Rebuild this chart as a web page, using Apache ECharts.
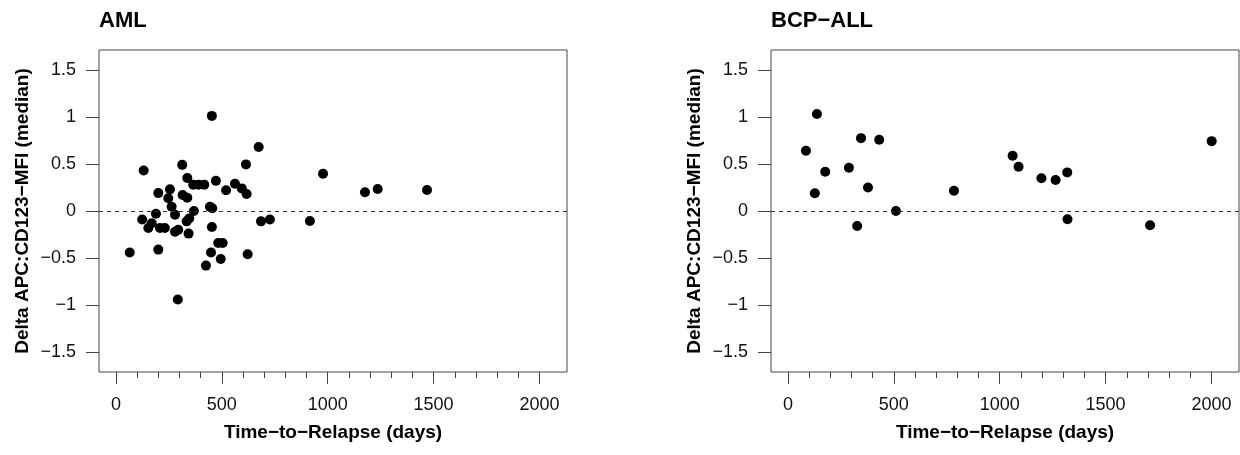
<!DOCTYPE html>
<html>
<head>
<meta charset="utf-8">
<script src="https://cdn.jsdelivr.net/npm/echarts@6/dist/echarts.min.js"></script>
<style>
html,body{margin:0;padding:0;background:#fff;}
#chart{width:1240px;height:455px;}
</style>
</head>
<body>
<div id="chart"></div>
<script>
// AML panel: time-to-relapse (days) and delta APC:CD123-MFI (median)
var amlDays = [453, 674, 614, 131, 313, 337, 365, 390, 417, 472, 520, 562, 594, 617, 200, 255, 247, 263, 279, 315, 337, 368, 444, 455, 124, 189, 169, 153, 208, 231, 279, 294, 334, 346, 343, 453, 483, 504, 449, 495, 425, 622, 685, 727, 65, 200, 292, 978, 1176, 1236, 1469, 916];
var amlDelta = [1.01, 0.68, 0.495, 0.43, 0.49, 0.35, 0.28, 0.28, 0.28, 0.32, 0.22, 0.29, 0.24, 0.18, 0.19, 0.23, 0.135, 0.046, -0.04, 0.17, 0.14, 0.0, 0.046, 0.03, -0.09, -0.03, -0.13, -0.18, -0.18, -0.18, -0.22, -0.2, -0.11, -0.08, -0.24, -0.17, -0.34, -0.34, -0.44, -0.51, -0.58, -0.46, -0.11, -0.09, -0.44, -0.41, -0.94, 0.395, 0.2, 0.233, 0.223, -0.106];
// BCP-ALL panel
var bcpDays = [137, 85, 345, 431, 176, 288, 127, 378, 510, 327, 784, 1061, 1089, 1197, 1264, 1319, 1320, 1710, 2001];
var bcpDelta = [1.03, 0.64, 0.774, 0.756, 0.417, 0.46, 0.188, 0.25, 0.0, -0.16, 0.215, 0.586, 0.47, 0.347, 0.33, 0.41, -0.088, -0.152, 0.742];

var panelTitles = ['AML', 'BCP\u2212ALL'];
var xTitle = 'Time\u2212to\u2212Relapse (days)';
var yTitle = 'Delta APC:CD123\u2212MFI (median)';
var xMajorTicks = [0, 500, 1000, 1500, 2000];
var xMinorTicks = [100, 200, 300, 400, 600, 700, 800, 900, 1100, 1200, 1300, 1400, 1600, 1700, 1800, 1900];
var yTicks = [-1.5, -1, -0.5, 0, 0.5, 1, 1.5];
var xRange = [-80, 2130];
var yRange = [-1.71, 1.71];

function pairs(xs, ys) { return xs.map(function (x, i) { return [x, ys[i]]; }); }
function fmt(v) { return String(v).replace('-', '\u2212'); }

var FONT = '"Liberation Sans", Arial, Helvetica, sans-serif';
var BOX = '#444';

var chart = echarts.init(document.getElementById('chart'), null, {renderer: 'canvas'});

var grids = [
  {left: 99, top: 50, width: 468, height: 322, show: true, borderColor: BOX, borderWidth: 1, backgroundColor: 'transparent'},
  {left: 771, top: 50, width: 468, height: 322, show: true, borderColor: BOX, borderWidth: 1, backgroundColor: 'transparent'}
];

var xAxes = [], yAxes = [];
[0, 1].forEach(function (g) {
  xAxes.push({
    type: 'value', gridIndex: g, position: 'bottom', min: xRange[0], max: xRange[1],
    name: xTitle, nameLocation: 'middle', nameGap: 51,
    nameTextStyle: {fontFamily: FONT, fontSize: 19, fontWeight: 'bold', color: '#000'},
    axisLine: {show: false, onZero: false},
    splitLine: {show: false},
    axisTick: {show: true, customValues: xMajorTicks, length: 12, lineStyle: {color: BOX}},
    axisLabel: {customValues: xMajorTicks, margin: 24, fontFamily: FONT, fontSize: 18, color: '#111', formatter: fmt}
  });
  xAxes.push({
    type: 'value', gridIndex: g, position: 'bottom', min: xRange[0], max: xRange[1],
    axisLine: {show: false, onZero: false}, splitLine: {show: false},
    axisTick: {show: true, customValues: xMinorTicks, length: 6, lineStyle: {color: BOX}},
    axisLabel: {show: false}
  });
  yAxes.push({
    type: 'value', gridIndex: g, position: 'left', min: yRange[0], max: yRange[1],
    name: yTitle, nameLocation: 'middle', nameGap: 67, nameRotate: 90,
    nameTextStyle: {fontFamily: FONT, fontSize: 19, fontWeight: 'bold', color: '#000'},
    axisLine: {show: false, onZero: false}, splitLine: {show: false},
    axisTick: {show: true, customValues: yTicks, length: 13, lineStyle: {color: BOX}},
    axisLabel: {customValues: yTicks, margin: 23, fontFamily: FONT, fontSize: 18, color: '#111', formatter: fmt}
  });
});

function scatter(g, xs, ys) {
  return {
    type: 'scatter', xAxisIndex: g * 2, yAxisIndex: g,
    data: pairs(xs, ys), symbol: 'circle', symbolSize: 10,
    itemStyle: {color: '#000', opacity: 1}, silent: true,
    markLine: {
      silent: true, symbol: 'none', label: {show: false},
      lineStyle: {type: [4, 4], color: '#333', width: 1},
      data: [{yAxis: 0}]
    }
  };
}

chart.setOption({
  animation: false,
  backgroundColor: '#fff',
  title: [
    {text: panelTitles[0], left: 99, top: 10, padding: 0, textStyle: {fontFamily: FONT, fontSize: 22, fontWeight: 'bold', color: '#000'}},
    {text: panelTitles[1], left: 771, top: 10, padding: 0, textStyle: {fontFamily: FONT, fontSize: 22, fontWeight: 'bold', color: '#000'}}
  ],
  grid: grids,
  xAxis: xAxes,
  yAxis: yAxes,
  series: [scatter(0, amlDays, amlDelta), scatter(1, bcpDays, bcpDelta)]
});
</script>
</body>
</html>
